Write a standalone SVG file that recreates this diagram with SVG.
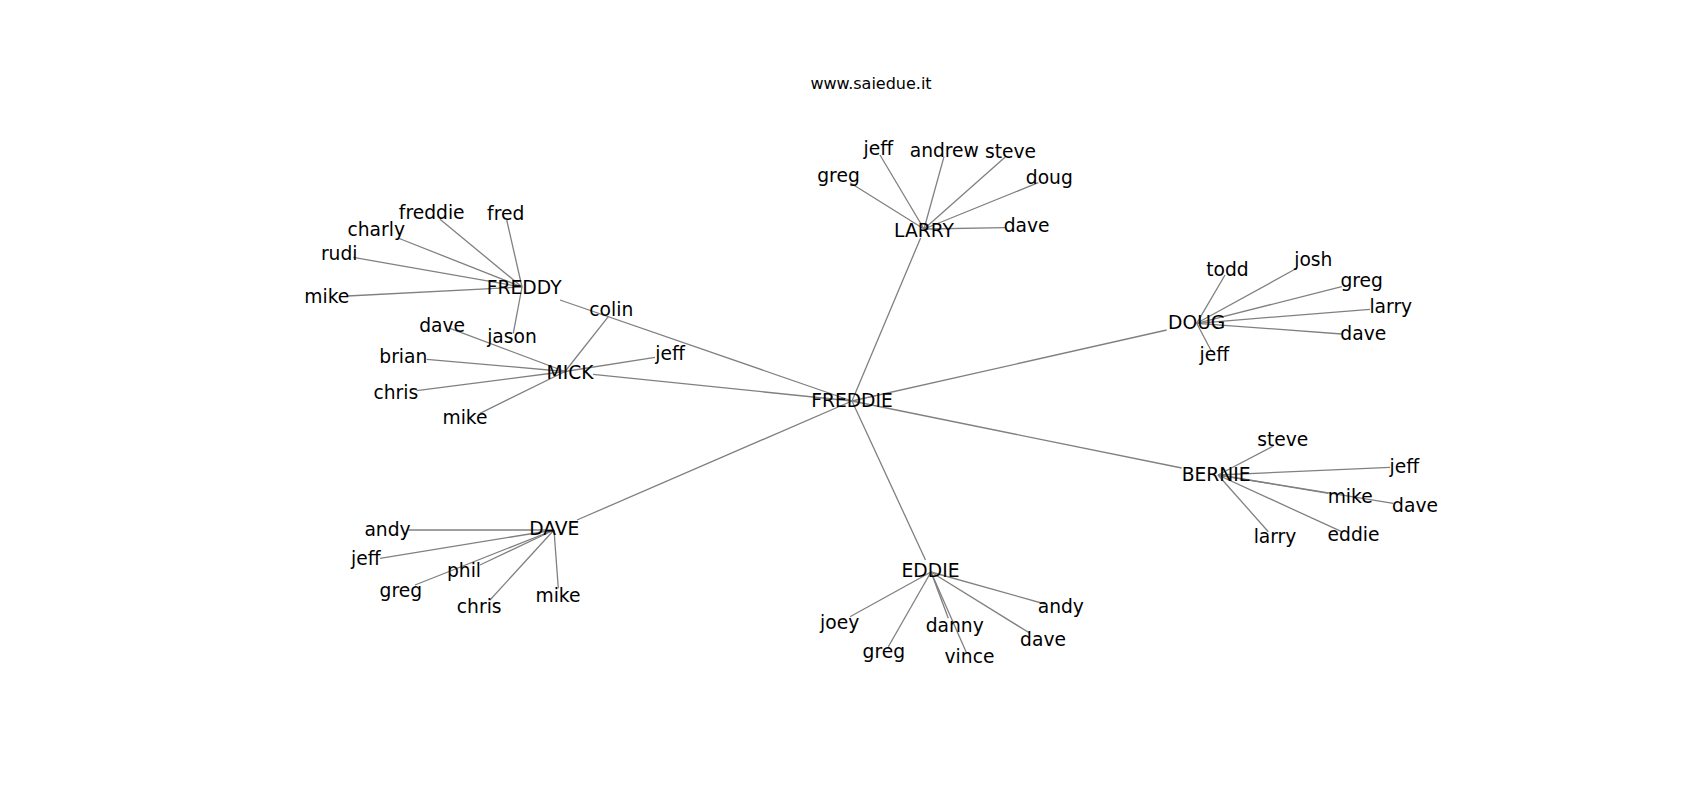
<svg xmlns="http://www.w3.org/2000/svg" width="1700" height="800" viewBox="0 0 1700 800">
<style>
.e{stroke:#808080;stroke-width:1.3;fill:none}
text{font-family:"DejaVu Sans","Liberation Sans",sans-serif;fill:#000;text-anchor:middle}
.n{font-size:18.7px}
.t{font-size:16px}
</style>
<rect width="1700" height="800" fill="#fff"/>
<text class="t" x="871" y="89">www.saiedue.it</text>
<g id="edges" class="e">
<line x1="852" y1="401" x2="560" y2="300"/>
<line x1="852" y1="401" x2="593" y2="374.4"/>
<line x1="852" y1="401" x2="920.6" y2="238"/>
<line x1="852" y1="401" x2="1166.7" y2="330"/>
<line x1="852" y1="401" x2="1181.7" y2="468"/>
<line x1="852" y1="401" x2="925.5" y2="560"/>
<line x1="852" y1="401" x2="577" y2="520"/>
<line x1="522" y1="287" x2="440" y2="219.3"/>
<line x1="522" y1="287" x2="506.7" y2="220"/>
<line x1="522" y1="287" x2="398" y2="238"/>
<line x1="522" y1="287" x2="353.3" y2="257.3"/>
<line x1="522" y1="287" x2="347.3" y2="296"/>
<line x1="522" y1="287" x2="513.3" y2="333.3"/>
<line x1="565" y1="371.5" x2="450" y2="328.3"/>
<line x1="565" y1="371.5" x2="426.7" y2="359.3"/>
<line x1="565" y1="371.5" x2="416.7" y2="390.7"/>
<line x1="565" y1="371.5" x2="480" y2="413.3"/>
<line x1="565" y1="371.5" x2="608.3" y2="316.7"/>
<line x1="565" y1="371.5" x2="655" y2="357.3"/>
<line x1="924" y1="229" x2="850" y2="182.7"/>
<line x1="924" y1="229" x2="880" y2="155"/>
<line x1="924" y1="229" x2="944" y2="156.7"/>
<line x1="924" y1="229" x2="1005" y2="157.3"/>
<line x1="924" y1="229" x2="1038.3" y2="182.7"/>
<line x1="924" y1="229" x2="1005" y2="227.7"/>
<line x1="1196.7" y1="323.3" x2="1225" y2="275"/>
<line x1="1196.7" y1="323.3" x2="1296.7" y2="268.3"/>
<line x1="1196.7" y1="323.3" x2="1341.7" y2="286.7"/>
<line x1="1196.7" y1="323.3" x2="1370" y2="309.3"/>
<line x1="1196.7" y1="323.3" x2="1341.7" y2="334"/>
<line x1="1196.7" y1="323.3" x2="1211.7" y2="351.7"/>
<line x1="1218" y1="475" x2="1273.3" y2="446"/>
<line x1="1218" y1="475" x2="1390" y2="467.3"/>
<line x1="1218" y1="475" x2="1328.3" y2="493.3"/>
<line x1="1218" y1="475" x2="1393.3" y2="503.3"/>
<line x1="1218" y1="475" x2="1268.3" y2="531.7"/>
<line x1="1218" y1="475" x2="1341.7" y2="531.7"/>
<line x1="931" y1="572" x2="1045" y2="604"/>
<line x1="931" y1="572" x2="850" y2="616.7"/>
<line x1="931" y1="572" x2="948.3" y2="618.3"/>
<line x1="931" y1="572" x2="1030" y2="633.3"/>
<line x1="931" y1="572" x2="888.3" y2="646.7"/>
<line x1="931" y1="572" x2="966.7" y2="653.3"/>
<line x1="554" y1="530" x2="408.3" y2="530"/>
<line x1="554" y1="530" x2="380" y2="558.3"/>
<line x1="554" y1="530" x2="480" y2="565"/>
<line x1="554" y1="530" x2="415" y2="585"/>
<line x1="554" y1="530" x2="490" y2="600"/>
<line x1="554" y1="530" x2="558.3" y2="588.3"/>
</g>
<g id="FREDDIE"><text class="n" x="852" y="407.3">FREDDIE</text></g>
<g id="FREDDY"><text class="n" x="524.2" y="294.3">FREDDY</text></g>
<g id="FREDDY-freddie"><text class="n" x="431.7" y="219.3">freddie</text></g>
<g id="FREDDY-fred"><text class="n" x="505.7" y="220">fred</text></g>
<g id="FREDDY-charly"><text class="n" x="376.2" y="236">charly</text></g>
<g id="FREDDY-rudi"><text class="n" x="339.2" y="260">rudi</text></g>
<g id="FREDDY-mike"><text class="n" x="326.8" y="302.7">mike</text></g>
<g id="FREDDY-jason"><text class="n" x="512" y="343.3">jason</text></g>
<g id="MICK"><text class="n" x="570" y="379.3">MICK</text></g>
<g id="MICK-dave"><text class="n" x="442.2" y="332">dave</text></g>
<g id="MICK-brian"><text class="n" x="403.3" y="362.7">brian</text></g>
<g id="MICK-chris"><text class="n" x="395.8" y="399">chris</text></g>
<g id="MICK-mike"><text class="n" x="465" y="424">mike</text></g>
<g id="MICK-colin"><text class="n" x="611.3" y="316">colin</text></g>
<g id="MICK-jeff"><text class="n" x="670" y="360">jeff</text></g>
<g id="LARRY"><text class="n" x="924" y="236.7">LARRY</text></g>
<g id="LARRY-greg"><text class="n" x="838.5" y="181.7">greg</text></g>
<g id="LARRY-jeff"><text class="n" x="878.3" y="155">jeff</text></g>
<g id="LARRY-andrew"><text class="n" x="944.3" y="157.3">andrew</text></g>
<g id="LARRY-steve"><text class="n" x="1010.5" y="158.3">steve</text></g>
<g id="LARRY-doug"><text class="n" x="1049.3" y="184">doug</text></g>
<g id="LARRY-dave"><text class="n" x="1026.7" y="231.7">dave</text></g>
<g id="DOUG"><text class="n" x="1196.7" y="329.3">DOUG</text></g>
<g id="DOUG-todd"><text class="n" x="1227.5" y="275.7">todd</text></g>
<g id="DOUG-josh"><text class="n" x="1313.3" y="265.7">josh</text></g>
<g id="DOUG-greg"><text class="n" x="1361.7" y="286.7">greg</text></g>
<g id="DOUG-larry"><text class="n" x="1390.8" y="312.7">larry</text></g>
<g id="DOUG-dave"><text class="n" x="1363.3" y="340">dave</text></g>
<g id="DOUG-jeff"><text class="n" x="1214.3" y="360.7">jeff</text></g>
<g id="BERNIE"><text class="n" x="1216.2" y="481">BERNIE</text></g>
<g id="BERNIE-steve"><text class="n" x="1282.8" y="446">steve</text></g>
<g id="BERNIE-jeff"><text class="n" x="1404.3" y="472.7">jeff</text></g>
<g id="BERNIE-mike"><text class="n" x="1350.2" y="502.7">mike</text></g>
<g id="BERNIE-dave"><text class="n" x="1415" y="511.7">dave</text></g>
<g id="BERNIE-larry"><text class="n" x="1275" y="542.7">larry</text></g>
<g id="BERNIE-eddie"><text class="n" x="1353.5" y="540.7">eddie</text></g>
<g id="EDDIE"><text class="n" x="930.5" y="577.3">EDDIE</text></g>
<g id="EDDIE-andy"><text class="n" x="1060.8" y="612.7">andy</text></g>
<g id="EDDIE-joey"><text class="n" x="839.7" y="629.3">joey</text></g>
<g id="EDDIE-danny"><text class="n" x="954.7" y="631.7">danny</text></g>
<g id="EDDIE-dave"><text class="n" x="1043" y="646">dave</text></g>
<g id="EDDIE-greg"><text class="n" x="883.8" y="658.3">greg</text></g>
<g id="EDDIE-vince"><text class="n" x="969.5" y="663.3">vince</text></g>
<g id="DAVE"><text class="n" x="554.3" y="535">DAVE</text></g>
<g id="DAVE-andy"><text class="n" x="387.5" y="536">andy</text></g>
<g id="DAVE-jeff"><text class="n" x="365.8" y="565">jeff</text></g>
<g id="DAVE-phil"><text class="n" x="464" y="577.3">phil</text></g>
<g id="DAVE-greg"><text class="n" x="400.8" y="596.7">greg</text></g>
<g id="DAVE-mike"><text class="n" x="558" y="601.7">mike</text></g>
<g id="DAVE-chris"><text class="n" x="479.2" y="613.3">chris</text></g>
</svg>
